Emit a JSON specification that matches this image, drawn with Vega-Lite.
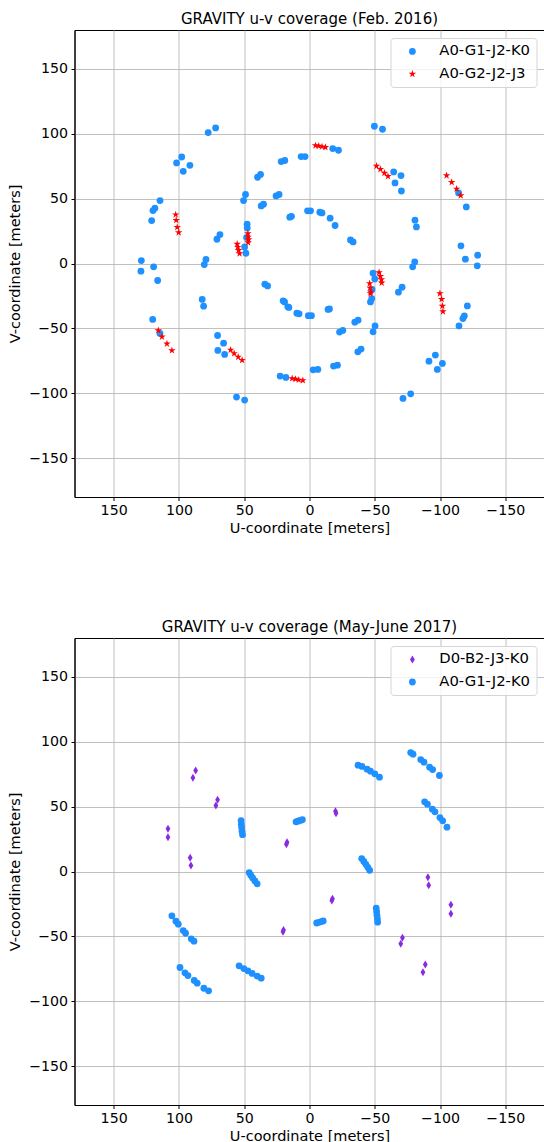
{
  "$schema": "https://vega.github.io/schema/vega-lite/v6.json",
  "padding": {"left": 6.5, "top": 11, "right": 0, "bottom": 0},
  "bounds": "flush",
  "spacing": 141,
  "config": {
    "font": "DejaVu Sans",
    "view": {"stroke": "black", "strokeWidth": 1},
    "axis": {
      "grid": true,
      "gridColor": "#b0b0b0",
      "gridWidth": 0.8,
      "domainColor": "black",
      "domainWidth": 1,
      "tickColor": "black",
      "tickSize": 3.5,
      "labelFontSize": 14.2,
      "labelColor": "black",
      "labelPadding": 3.4,
      "labelOverlap": false,
      "labelFlush": false,
      "titleFontSize": 14.5,
      "titleFontWeight": "normal",
      "titleColor": "black"
    },
    "axisX": {"titlePadding": 3},
    "axisY": {"titlePadding": 6},
    "title": {
      "fontSize": 15,
      "fontWeight": "normal",
      "anchor": "middle",
      "frame": "group",
      "baseline": "bottom",
      "offset": 3,
      "color": "black"
    },
    "legend": {
      "orient": "top-right",
      "offset": 8,
      "padding": 6,
      "fillColor": "rgba(255,255,255,0.8)",
      "strokeColor": "#d6d6d6",
      "cornerRadius": 3,
      "labelFontSize": 14.8,
      "labelColor": "black",
      "rowPadding": 6.6,
      "symbolOffset": 8.5,
      "labelOffset": 19.5,
      "symbolStrokeWidth": 0
    }
  },
  "datasets": {
    "feb2016": [
      {"u": 77.6, "v": 100.9, "config": "A0-G1-J2-K0"},
      {"u": 71.9, "v": 104.5, "config": "A0-G1-J2-K0"},
      {"u": 101.8, "v": 77.5, "config": "A0-G1-J2-K0"},
      {"u": 97.9, "v": 82.1, "config": "A0-G1-J2-K0"},
      {"u": 96.7, "v": 71.1, "config": "A0-G1-J2-K0"},
      {"u": 91.6, "v": 75.7, "config": "A0-G1-J2-K0"},
      {"u": 114.5, "v": 48.5, "config": "A0-G1-J2-K0"},
      {"u": 118.4, "v": 42.6, "config": "A0-G1-J2-K0"},
      {"u": 119.9, "v": 40.8, "config": "A0-G1-J2-K0"},
      {"u": 120.9, "v": 33.1, "config": "A0-G1-J2-K0"},
      {"u": 49.0, "v": 53.2, "config": "A0-G1-J2-K0"},
      {"u": 50.5, "v": 48.5, "config": "A0-G1-J2-K0"},
      {"u": 39.8, "v": 66.5, "config": "A0-G1-J2-K0"},
      {"u": 37.5, "v": 68.6, "config": "A0-G1-J2-K0"},
      {"u": 37.0, "v": 44.4, "config": "A0-G1-J2-K0"},
      {"u": 35.2, "v": 45.7, "config": "A0-G1-J2-K0"},
      {"u": 25.6, "v": 52.1, "config": "A0-G1-J2-K0"},
      {"u": 23.3, "v": 53.2, "config": "A0-G1-J2-K0"},
      {"u": 21.7, "v": 78.6, "config": "A0-G1-J2-K0"},
      {"u": 18.9, "v": 79.4, "config": "A0-G1-J2-K0"},
      {"u": 15.1, "v": 35.7, "config": "A0-G1-J2-K0"},
      {"u": 13.8, "v": 36.4, "config": "A0-G1-J2-K0"},
      {"u": 6.4, "v": 82.4, "config": "A0-G1-J2-K0"},
      {"u": 3.4, "v": 82.4, "config": "A0-G1-J2-K0"},
      {"u": 1.5, "v": 40.6, "config": "A0-G1-J2-K0"},
      {"u": -0.8, "v": 40.6, "config": "A0-G1-J2-K0"},
      {"u": 70.9, "v": 18.7, "config": "A0-G1-J2-K0"},
      {"u": 68.6, "v": 22.3, "config": "A0-G1-J2-K0"},
      {"u": 47.8, "v": 30.3, "config": "A0-G1-J2-K0"},
      {"u": 47.7, "v": 27.4, "config": "A0-G1-J2-K0"},
      {"u": 48.2, "v": 20.0, "config": "A0-G1-J2-K0"},
      {"u": 49.7, "v": 12.8, "config": "A0-G1-J2-K0"},
      {"u": 48.7, "v": 7.9, "config": "A0-G1-J2-K0"},
      {"u": 128.8, "v": 2.3, "config": "A0-G1-J2-K0"},
      {"u": 129.1, "v": -5.9, "config": "A0-G1-J2-K0"},
      {"u": 119.4, "v": -2.6, "config": "A0-G1-J2-K0"},
      {"u": 116.3, "v": -13.1, "config": "A0-G1-J2-K0"},
      {"u": 79.3, "v": 3.1, "config": "A0-G1-J2-K0"},
      {"u": 80.6, "v": -0.8, "config": "A0-G1-J2-K0"},
      {"u": 34.2, "v": -15.9, "config": "A0-G1-J2-K0"},
      {"u": 32.1, "v": -17.3, "config": "A0-G1-J2-K0"},
      {"u": 20.2, "v": -28.8, "config": "A0-G1-J2-K0"},
      {"u": 19.1, "v": -29.6, "config": "A0-G1-J2-K0"},
      {"u": 16.6, "v": -33.4, "config": "A0-G1-J2-K0"},
      {"u": 15.8, "v": -33.9, "config": "A0-G1-J2-K0"},
      {"u": 9.7, "v": -38.3, "config": "A0-G1-J2-K0"},
      {"u": 8.0, "v": -38.8, "config": "A0-G1-J2-K0"},
      {"u": 0.9, "v": -40.2, "config": "A0-G1-J2-K0"},
      {"u": -1.5, "v": -40.2, "config": "A0-G1-J2-K0"},
      {"u": 82.2, "v": -27.7, "config": "A0-G1-J2-K0"},
      {"u": 81.1, "v": -32.9, "config": "A0-G1-J2-K0"},
      {"u": 120.1, "v": -43.1, "config": "A0-G1-J2-K0"},
      {"u": 114.5, "v": -53.9, "config": "A0-G1-J2-K0"},
      {"u": 70.4, "v": -55.5, "config": "A0-G1-J2-K0"},
      {"u": 65.8, "v": -61.4, "config": "A0-G1-J2-K0"},
      {"u": 70.2, "v": -67.0, "config": "A0-G1-J2-K0"},
      {"u": 65.0, "v": -70.1, "config": "A0-G1-J2-K0"},
      {"u": 22.5, "v": -86.8, "config": "A0-G1-J2-K0"},
      {"u": 18.1, "v": -87.8, "config": "A0-G1-J2-K0"},
      {"u": 55.9, "v": -103.0, "config": "A0-G1-J2-K0"},
      {"u": 49.7, "v": -105.3, "config": "A0-G1-J2-K0"},
      {"u": -17.8, "v": 88.6, "config": "A0-G1-J2-K0"},
      {"u": -22.2, "v": 87.3, "config": "A0-G1-J2-K0"},
      {"u": -49.7, "v": 105.8, "config": "A0-G1-J2-K0"},
      {"u": -55.9, "v": 103.5, "config": "A0-G1-J2-K0"},
      {"u": -64.5, "v": 70.6, "config": "A0-G1-J2-K0"},
      {"u": -70.1, "v": 67.8, "config": "A0-G1-J2-K0"},
      {"u": -65.5, "v": 62.1, "config": "A0-G1-J2-K0"},
      {"u": -70.4, "v": 55.9, "config": "A0-G1-J2-K0"},
      {"u": -114.2, "v": 54.4, "config": "A0-G1-J2-K0"},
      {"u": -120.1, "v": 43.6, "config": "A0-G1-J2-K0"},
      {"u": -7.9, "v": 39.5, "config": "A0-G1-J2-K0"},
      {"u": -9.6, "v": 39.0, "config": "A0-G1-J2-K0"},
      {"u": -15.8, "v": 34.9, "config": "A0-G1-J2-K0"},
      {"u": -19.6, "v": 29.3, "config": "A0-G1-J2-K0"},
      {"u": -31.4, "v": 18.2, "config": "A0-G1-J2-K0"},
      {"u": -33.4, "v": 16.6, "config": "A0-G1-J2-K0"},
      {"u": -80.8, "v": 33.4, "config": "A0-G1-J2-K0"},
      {"u": -81.9, "v": 28.2, "config": "A0-G1-J2-K0"},
      {"u": -116.0, "v": 13.6, "config": "A0-G1-J2-K0"},
      {"u": -119.4, "v": 3.3, "config": "A0-G1-J2-K0"},
      {"u": -128.8, "v": 6.4, "config": "A0-G1-J2-K0"},
      {"u": -128.5, "v": -1.8, "config": "A0-G1-J2-K0"},
      {"u": -80.6, "v": 1.2, "config": "A0-G1-J2-K0"},
      {"u": -79.0, "v": -2.6, "config": "A0-G1-J2-K0"},
      {"u": -48.7, "v": -7.5, "config": "A0-G1-J2-K0"},
      {"u": -50.0, "v": -11.9, "config": "A0-G1-J2-K0"},
      {"u": -47.9, "v": -20.0, "config": "A0-G1-J2-K0"},
      {"u": -47.7, "v": -27.0, "config": "A0-G1-J2-K0"},
      {"u": -46.7, "v": -29.6, "config": "A0-G1-J2-K0"},
      {"u": -68.1, "v": -22.1, "config": "A0-G1-J2-K0"},
      {"u": -70.9, "v": -18.3, "config": "A0-G1-J2-K0"},
      {"u": -120.9, "v": -32.7, "config": "A0-G1-J2-K0"},
      {"u": -118.6, "v": -40.4, "config": "A0-G1-J2-K0"},
      {"u": -117.5, "v": -42.4, "config": "A0-G1-J2-K0"},
      {"u": -114.5, "v": -48.1, "config": "A0-G1-J2-K0"},
      {"u": -14.2, "v": -35.4, "config": "A0-G1-J2-K0"},
      {"u": -15.3, "v": -35.0, "config": "A0-G1-J2-K0"},
      {"u": -23.0, "v": -52.9, "config": "A0-G1-J2-K0"},
      {"u": -25.5, "v": -51.6, "config": "A0-G1-J2-K0"},
      {"u": -34.7, "v": -45.2, "config": "A0-G1-J2-K0"},
      {"u": -37.2, "v": -43.7, "config": "A0-G1-J2-K0"},
      {"u": -48.7, "v": -52.7, "config": "A0-G1-J2-K0"},
      {"u": -50.2, "v": -48.1, "config": "A0-G1-J2-K0"},
      {"u": -37.0, "v": -68.1, "config": "A0-G1-J2-K0"},
      {"u": -39.5, "v": -66.0, "config": "A0-G1-J2-K0"},
      {"u": -2.8, "v": -82.0, "config": "A0-G1-J2-K0"},
      {"u": -6.4, "v": -81.7, "config": "A0-G1-J2-K0"},
      {"u": -18.4, "v": -79.1, "config": "A0-G1-J2-K0"},
      {"u": -21.4, "v": -78.4, "config": "A0-G1-J2-K0"},
      {"u": -91.5, "v": -75.3, "config": "A0-G1-J2-K0"},
      {"u": -96.4, "v": -70.6, "config": "A0-G1-J2-K0"},
      {"u": -97.9, "v": -81.7, "config": "A0-G1-J2-K0"},
      {"u": -101.8, "v": -77.0, "config": "A0-G1-J2-K0"},
      {"u": -71.6, "v": -104.0, "config": "A0-G1-J2-K0"},
      {"u": -77.5, "v": -100.5, "config": "A0-G1-J2-K0"},
      {"u": 102.5, "v": 37.7, "config": "A0-G2-J2-J3"},
      {"u": 102.1, "v": 33.4, "config": "A0-G2-J2-J3"},
      {"u": 101.3, "v": 28.0, "config": "A0-G2-J2-J3"},
      {"u": 100.2, "v": 23.9, "config": "A0-G2-J2-J3"},
      {"u": 47.2, "v": 23.1, "config": "A0-G2-J2-J3"},
      {"u": 47.0, "v": 20.5, "config": "A0-G2-J2-J3"},
      {"u": 46.7, "v": 18.5, "config": "A0-G2-J2-J3"},
      {"u": 47.0, "v": 16.2, "config": "A0-G2-J2-J3"},
      {"u": 55.4, "v": 15.1, "config": "A0-G2-J2-J3"},
      {"u": 54.9, "v": 12.6, "config": "A0-G2-J2-J3"},
      {"u": 54.3, "v": 10.2, "config": "A0-G2-J2-J3"},
      {"u": 53.6, "v": 7.7, "config": "A0-G2-J2-J3"},
      {"u": -4.6, "v": 90.9, "config": "A0-G2-J2-J3"},
      {"u": -7.1, "v": 90.6, "config": "A0-G2-J2-J3"},
      {"u": -9.6, "v": 90.1, "config": "A0-G2-J2-J3"},
      {"u": -12.2, "v": 89.6, "config": "A0-G2-J2-J3"},
      {"u": -51.3, "v": 75.2, "config": "A0-G2-J2-J3"},
      {"u": -54.3, "v": 72.7, "config": "A0-G2-J2-J3"},
      {"u": -57.4, "v": 69.8, "config": "A0-G2-J2-J3"},
      {"u": -60.1, "v": 67.3, "config": "A0-G2-J2-J3"},
      {"u": -105.0, "v": 67.8, "config": "A0-G2-J2-J3"},
      {"u": -108.9, "v": 62.6, "config": "A0-G2-J2-J3"},
      {"u": -112.7, "v": 57.5, "config": "A0-G2-J2-J3"},
      {"u": -115.8, "v": 52.4, "config": "A0-G2-J2-J3"},
      {"u": 115.8, "v": -51.6, "config": "A0-G2-J2-J3"},
      {"u": 113.0, "v": -56.5, "config": "A0-G2-J2-J3"},
      {"u": 109.2, "v": -61.9, "config": "A0-G2-J2-J3"},
      {"u": 105.4, "v": -67.0, "config": "A0-G2-J2-J3"},
      {"u": 60.4, "v": -66.6, "config": "A0-G2-J2-J3"},
      {"u": 57.7, "v": -69.3, "config": "A0-G2-J2-J3"},
      {"u": 54.6, "v": -72.0, "config": "A0-G2-J2-J3"},
      {"u": 51.6, "v": -74.5, "config": "A0-G2-J2-J3"},
      {"u": 13.3, "v": -88.6, "config": "A0-G2-J2-J3"},
      {"u": 10.7, "v": -89.1, "config": "A0-G2-J2-J3"},
      {"u": 8.2, "v": -89.7, "config": "A0-G2-J2-J3"},
      {"u": 5.1, "v": -90.1, "config": "A0-G2-J2-J3"},
      {"u": -46.1, "v": -15.4, "config": "A0-G2-J2-J3"},
      {"u": -46.4, "v": -18.8, "config": "A0-G2-J2-J3"},
      {"u": -46.9, "v": -21.9, "config": "A0-G2-J2-J3"},
      {"u": -46.7, "v": -23.1, "config": "A0-G2-J2-J3"},
      {"u": -53.3, "v": -6.9, "config": "A0-G2-J2-J3"},
      {"u": -54.3, "v": -9.8, "config": "A0-G2-J2-J3"},
      {"u": -55.1, "v": -12.3, "config": "A0-G2-J2-J3"},
      {"u": -55.3, "v": -14.9, "config": "A0-G2-J2-J3"},
      {"u": -99.9, "v": -23.1, "config": "A0-G2-J2-J3"},
      {"u": -101.2, "v": -27.5, "config": "A0-G2-J2-J3"},
      {"u": -101.8, "v": -32.7, "config": "A0-G2-J2-J3"},
      {"u": -102.2, "v": -37.0, "config": "A0-G2-J2-J3"}
    ],
    "may2017": [
      {"u": 87.2, "v": 77.9, "config": "D0-B2-J3-K0"},
      {"u": 89.3, "v": 72.2, "config": "D0-B2-J3-K0"},
      {"u": 70.4, "v": 55.3, "config": "D0-B2-J3-K0"},
      {"u": 71.7, "v": 50.9, "config": "D0-B2-J3-K0"},
      {"u": 108.4, "v": 32.9, "config": "D0-B2-J3-K0"},
      {"u": 108.4, "v": 26.4, "config": "D0-B2-J3-K0"},
      {"u": 91.4, "v": 10.6, "config": "D0-B2-J3-K0"},
      {"u": 90.8, "v": 4.6, "config": "D0-B2-J3-K0"},
      {"u": 17.2, "v": 22.5, "config": "D0-B2-J3-K0"},
      {"u": 17.7, "v": 21.0, "config": "D0-B2-J3-K0"},
      {"u": -19.9, "v": 46.5, "config": "D0-B2-J3-K0"},
      {"u": -20.3, "v": 45.0, "config": "D0-B2-J3-K0"},
      {"u": -86.9, "v": -77.6, "config": "D0-B2-J3-K0"},
      {"u": -88.7, "v": -71.7, "config": "D0-B2-J3-K0"},
      {"u": -71.2, "v": -51.1, "config": "D0-B2-J3-K0"},
      {"u": -69.9, "v": -55.7, "config": "D0-B2-J3-K0"},
      {"u": -108.3, "v": -25.7, "config": "D0-B2-J3-K0"},
      {"u": -108.3, "v": -32.6, "config": "D0-B2-J3-K0"},
      {"u": -90.7, "v": -4.4, "config": "D0-B2-J3-K0"},
      {"u": -91.3, "v": -10.6, "config": "D0-B2-J3-K0"},
      {"u": -17.1, "v": -22.3, "config": "D0-B2-J3-K0"},
      {"u": -17.6, "v": -21.0, "config": "D0-B2-J3-K0"},
      {"u": 19.9, "v": -45.0, "config": "D0-B2-J3-K0"},
      {"u": 20.3, "v": -46.5, "config": "D0-B2-J3-K0"},
      {"u": 52.4, "v": 39.2, "config": "A0-G1-J2-K0"},
      {"u": 52.2, "v": 36.5, "config": "A0-G1-J2-K0"},
      {"u": 52.0, "v": 34.0, "config": "A0-G1-J2-K0"},
      {"u": 51.7, "v": 31.0, "config": "A0-G1-J2-K0"},
      {"u": 51.3, "v": 28.4, "config": "A0-G1-J2-K0"},
      {"u": -51.1, "v": -28.2, "config": "A0-G1-J2-K0"},
      {"u": -51.4, "v": -31.0, "config": "A0-G1-J2-K0"},
      {"u": -51.7, "v": -33.8, "config": "A0-G1-J2-K0"},
      {"u": -52.0, "v": -36.5, "config": "A0-G1-J2-K0"},
      {"u": -52.2, "v": -39.1, "config": "A0-G1-J2-K0"},
      {"u": 46.2, "v": -0.8, "config": "A0-G1-J2-K0"},
      {"u": 45.0, "v": -2.8, "config": "A0-G1-J2-K0"},
      {"u": 43.5, "v": -5.0, "config": "A0-G1-J2-K0"},
      {"u": 41.8, "v": -7.3, "config": "A0-G1-J2-K0"},
      {"u": 40.1, "v": -9.5, "config": "A0-G1-J2-K0"},
      {"u": -40.0, "v": 10.0, "config": "A0-G1-J2-K0"},
      {"u": -41.6, "v": 7.8, "config": "A0-G1-J2-K0"},
      {"u": -43.2, "v": 5.5, "config": "A0-G1-J2-K0"},
      {"u": -44.7, "v": 3.2, "config": "A0-G1-J2-K0"},
      {"u": -46.1, "v": 0.9, "config": "A0-G1-J2-K0"},
      {"u": 10.3, "v": 38.3, "config": "A0-G1-J2-K0"},
      {"u": 8.9, "v": 38.8, "config": "A0-G1-J2-K0"},
      {"u": 7.2, "v": 39.4, "config": "A0-G1-J2-K0"},
      {"u": 5.5, "v": 39.9, "config": "A0-G1-J2-K0"},
      {"u": -5.5, "v": -39.7, "config": "A0-G1-J2-K0"},
      {"u": -7.3, "v": -39.2, "config": "A0-G1-J2-K0"},
      {"u": -9.0, "v": -38.6, "config": "A0-G1-J2-K0"},
      {"u": -10.5, "v": -38.1, "config": "A0-G1-J2-K0"},
      {"u": -77.5, "v": 91.7, "config": "A0-G1-J2-K0"},
      {"u": -79.3, "v": 90.4, "config": "A0-G1-J2-K0"},
      {"u": -85.2, "v": 86.3, "config": "A0-G1-J2-K0"},
      {"u": -87.7, "v": 84.3, "config": "A0-G1-J2-K0"},
      {"u": -92.0, "v": 80.4, "config": "A0-G1-J2-K0"},
      {"u": -94.3, "v": 78.6, "config": "A0-G1-J2-K0"},
      {"u": -99.5, "v": 74.0, "config": "A0-G1-J2-K0"},
      {"u": 99.2, "v": -74.0, "config": "A0-G1-J2-K0"},
      {"u": 95.4, "v": -78.1, "config": "A0-G1-J2-K0"},
      {"u": 93.1, "v": -80.2, "config": "A0-G1-J2-K0"},
      {"u": 88.3, "v": -84.0, "config": "A0-G1-J2-K0"},
      {"u": 86.0, "v": -86.1, "config": "A0-G1-J2-K0"},
      {"u": 80.9, "v": -90.0, "config": "A0-G1-J2-K0"},
      {"u": 77.3, "v": -92.0, "config": "A0-G1-J2-K0"},
      {"u": -37.2, "v": 82.0, "config": "A0-G1-J2-K0"},
      {"u": -40.2, "v": 81.0, "config": "A0-G1-J2-K0"},
      {"u": -44.1, "v": 78.9, "config": "A0-G1-J2-K0"},
      {"u": -46.7, "v": 77.3, "config": "A0-G1-J2-K0"},
      {"u": -50.0, "v": 75.3, "config": "A0-G1-J2-K0"},
      {"u": -53.6, "v": 72.7, "config": "A0-G1-J2-K0"},
      {"u": 53.9, "v": -72.7, "config": "A0-G1-J2-K0"},
      {"u": 50.3, "v": -74.8, "config": "A0-G1-J2-K0"},
      {"u": 47.2, "v": -76.6, "config": "A0-G1-J2-K0"},
      {"u": 43.9, "v": -78.6, "config": "A0-G1-J2-K0"},
      {"u": 40.1, "v": -80.7, "config": "A0-G1-J2-K0"},
      {"u": 37.0, "v": -82.2, "config": "A0-G1-J2-K0"},
      {"u": -88.2, "v": 53.7, "config": "A0-G1-J2-K0"},
      {"u": -90.3, "v": 51.9, "config": "A0-G1-J2-K0"},
      {"u": -94.1, "v": 48.0, "config": "A0-G1-J2-K0"},
      {"u": -96.1, "v": 46.0, "config": "A0-G1-J2-K0"},
      {"u": -99.9, "v": 41.6, "config": "A0-G1-J2-K0"},
      {"u": -102.0, "v": 39.1, "config": "A0-G1-J2-K0"},
      {"u": -105.3, "v": 34.2, "config": "A0-G1-J2-K0"},
      {"u": 105.4, "v": -34.2, "config": "A0-G1-J2-K0"},
      {"u": 102.3, "v": -38.3, "config": "A0-G1-J2-K0"},
      {"u": 100.5, "v": -40.6, "config": "A0-G1-J2-K0"},
      {"u": 96.7, "v": -45.5, "config": "A0-G1-J2-K0"},
      {"u": 94.9, "v": -47.6, "config": "A0-G1-J2-K0"},
      {"u": 90.6, "v": -51.9, "config": "A0-G1-J2-K0"},
      {"u": 88.5, "v": -53.7, "config": "A0-G1-J2-K0"}
    ]
  },
  "resolve": {
    "scale": {"color": "independent", "shape": "independent", "size": "independent", "x": "independent", "y": "independent"},
    "legend": {"color": "independent", "shape": "independent", "size": "independent"}
  },
  "vconcat": [
    {
      "title": "GRAVITY u-v coverage (Feb. 2016)",
      "width": 470,
      "height": 467,
      "data": {"name": "feb2016"},
      "mark": {"type": "point", "filled": true, "opacity": 1, "strokeWidth": 0},
      "encoding": {
        "x": {
          "field": "u",
          "type": "quantitative",
          "title": "U-coordinate [meters]",
          "scale": {"domain": [-180, 180], "reverse": true, "nice": false, "zero": false},
          "axis": {"values": [-150, -100, -50, 0, 50, 100, 150]}
        },
        "y": {
          "field": "v",
          "type": "quantitative",
          "title": "V-coordinate [meters]",
          "scale": {"domain": [-180, 180], "nice": false, "zero": false},
          "axis": {"values": [-150, -100, -50, 0, 50, 100, 150]}
        },
        "color": {
          "field": "config",
          "type": "nominal",
          "scale": {"domain": ["A0-G1-J2-K0", "A0-G2-J2-J3"], "range": ["#1e90ff", "#ff0000"]},
          "legend": {"title": null}
        },
        "shape": {
          "field": "config",
          "type": "nominal",
          "scale": {"domain": ["A0-G1-J2-K0", "A0-G2-J2-J3"], "range": ["circle", "M0,-1L0.225,-0.309L0.951,-0.309L0.363,0.118L0.588,0.809L0,0.382L-0.588,0.809L-0.363,0.118L-0.951,-0.309L-0.225,-0.309Z"]},
          "legend": {"title": null}
        },
        "size": {
          "field": "config",
          "type": "nominal",
          "scale": {"domain": ["A0-G1-J2-K0", "A0-G2-J2-J3"], "range": [46, 62]},
          "legend": {"title": null}
        }
      }
    },
    {
      "title": "GRAVITY u-v coverage (May-June 2017)",
      "width": 470,
      "height": 467,
      "data": {"name": "may2017"},
      "mark": {"type": "point", "filled": true, "opacity": 1, "strokeWidth": 0},
      "encoding": {
        "x": {
          "field": "u",
          "type": "quantitative",
          "title": "U-coordinate [meters]",
          "scale": {"domain": [-180, 180], "reverse": true, "nice": false, "zero": false},
          "axis": {"values": [-150, -100, -50, 0, 50, 100, 150]}
        },
        "y": {
          "field": "v",
          "type": "quantitative",
          "title": "V-coordinate [meters]",
          "scale": {"domain": [-180, 180], "nice": false, "zero": false},
          "axis": {"values": [-150, -100, -50, 0, 50, 100, 150]}
        },
        "color": {
          "field": "config",
          "type": "nominal",
          "scale": {"domain": ["D0-B2-J3-K0", "A0-G1-J2-K0"], "range": ["#8a2be2", "#1e90ff"]},
          "legend": {"title": null}
        },
        "shape": {
          "field": "config",
          "type": "nominal",
          "scale": {"domain": ["D0-B2-J3-K0", "A0-G1-J2-K0"], "range": ["M0,-1L0.6,0L0,1L-0.6,0Z", "circle"]},
          "legend": {"title": null}
        },
        "size": {
          "field": "config",
          "type": "nominal",
          "scale": {"domain": ["D0-B2-J3-K0", "A0-G1-J2-K0"], "range": [64, 46]},
          "legend": {"title": null}
        }
      }
    }
  ]
}
